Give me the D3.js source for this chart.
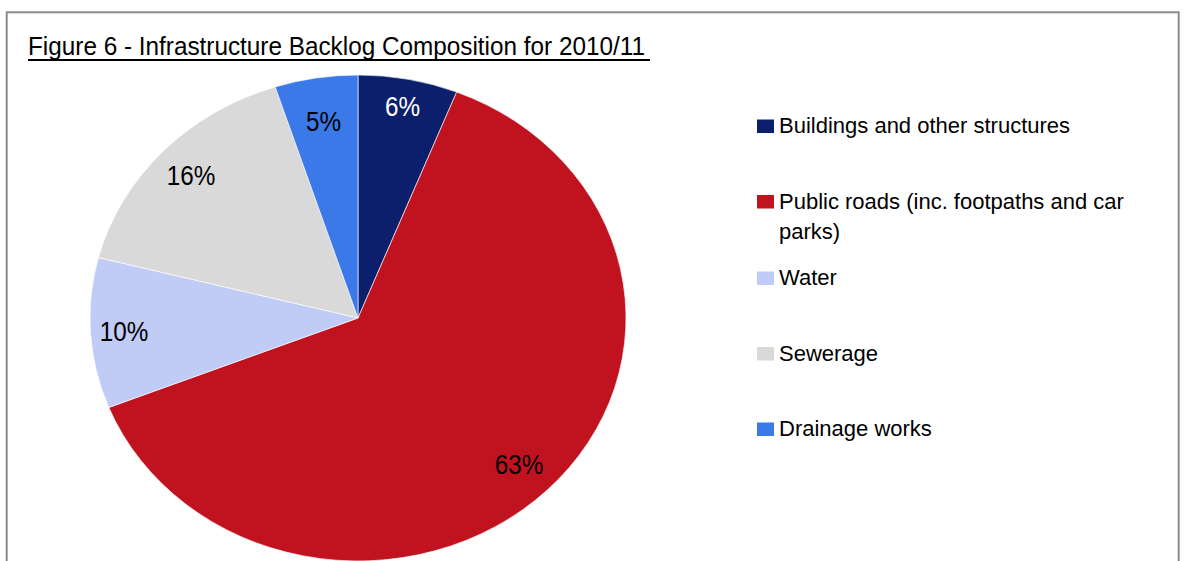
<!DOCTYPE html>
<html>
<head>
<meta charset="utf-8">
<script src="https://cdn.jsdelivr.net/npm/d3@7"></script>
<style>
  html, body { margin: 0; padding: 0; background: #fff; }
  svg { display: block; }
  text { font-family: "Liberation Sans Narrow", "Arial Narrow", "Liberation Sans", Arial, sans-serif; }
</style>
</head>
<body>
<svg id="chart" width="1184" height="561"></svg>
<script>
// Infrastructure backlog composition, 2010/11 (share of total, %)
const categories = [
  "Buildings and other structures",
  "Public roads (inc. footpaths and car parks)",
  "Water",
  "Sewerage",
  "Drainage works"
];
const values = [6, 63, 10, 16, 5];
const colors = ["#0c1f6c", "#c0131f", "#c0cbf6", "#d9d9d9", "#3b78e8"];
const labelColors = ["#ffffff", "#000000", "#000000", "#000000", "#000000"];
const legendLines = [
  ["Buildings and other structures"],
  ["Public roads (inc. footpaths and car", "parks)"],
  ["Water"],
  ["Sewerage"],
  ["Drainage works"]
];
const title = "Figure 6 - Infrastructure Backlog Composition for 2010/11";

const svg = d3.select("#chart");

// outer frame
svg.append("rect")
  .attr("x", 6.7).attr("y", 12.3)
  .attr("width", 1172).attr("height", 600)
  .attr("fill", "none").attr("stroke", "#8a8a8a").attr("stroke-width", 2);

// title with underline
svg.append("text")
  .attr("x", 28).attr("y", 55)
  .attr("font-size", 25)
  .attr("fill", "#000")
  .attr("textLength", 617)
  .attr("lengthAdjust", "spacingAndGlyphs")
  .text(title);
svg.append("line")
  .attr("x1", 28).attr("x2", 650)
  .attr("y1", 60).attr("y2", 60)
  .attr("stroke", "#000").attr("stroke-width", 2);

// pie (drawn slightly wider than tall)
const cx = 358, cy = 318, ry = 243, rx = 268;
const sx = rx / ry;
const pie = d3.pie().sort(null).value(d => d)(values);
const arc = d3.arc().innerRadius(0).outerRadius(ry);

const g = svg.append("g")
  .attr("transform", `translate(${cx},${cy}) scale(${sx},1)`);
g.selectAll("path")
  .data(pie)
  .join("path")
  .attr("d", arc)
  .attr("fill", (d, i) => colors[i])
  .attr("stroke", "#ffffff")
  .attr("stroke-width", 0.6);

// percentage labels, placed near the outer edge of each slice
const labelRadiusFactor = [0.885, 0.85, 0.875, 0.855, 0.82];
function labelPos(d, i) {
  const a = (d.startAngle + d.endAngle) / 2;
  const r = ry * labelRadiusFactor[i];
  return [cx + Math.sin(a) * r * sx, cy - Math.cos(a) * r];
}
svg.append("g")
  .selectAll("text")
  .data(pie)
  .join("text")
  .attr("transform", (d, i) => {
    const p = labelPos(d, i);
    return `translate(${p[0]},${p[1]}) scale(0.9,1)`;
  })
  .attr("dy", "0.36em")
  .attr("text-anchor", "middle")
  .attr("font-size", 27)
  .attr("fill", (d, i) => labelColors[i])
  .text(d => d.value + "%");

// legend
const legendTop = 133, legendStep = 75.5, lineGap = 30;
const lg = svg.append("g");
let y = legendTop;
legendLines.forEach((lines, i) => {
  lg.append("rect")
    .attr("x", 757).attr("y", y - 13.5)
    .attr("width", 17).attr("height", 13.5)
    .attr("fill", colors[i]);
  lines.forEach((ln, j) => {
    lg.append("text")
      .attr("x", 779).attr("y", y + j * lineGap)
      .attr("font-size", 22)
      .attr("fill", "#000")
      .text(ln);
  });
  y += legendStep + (lines.length - 1) * 1;
});
</script>
</body>
</html>
